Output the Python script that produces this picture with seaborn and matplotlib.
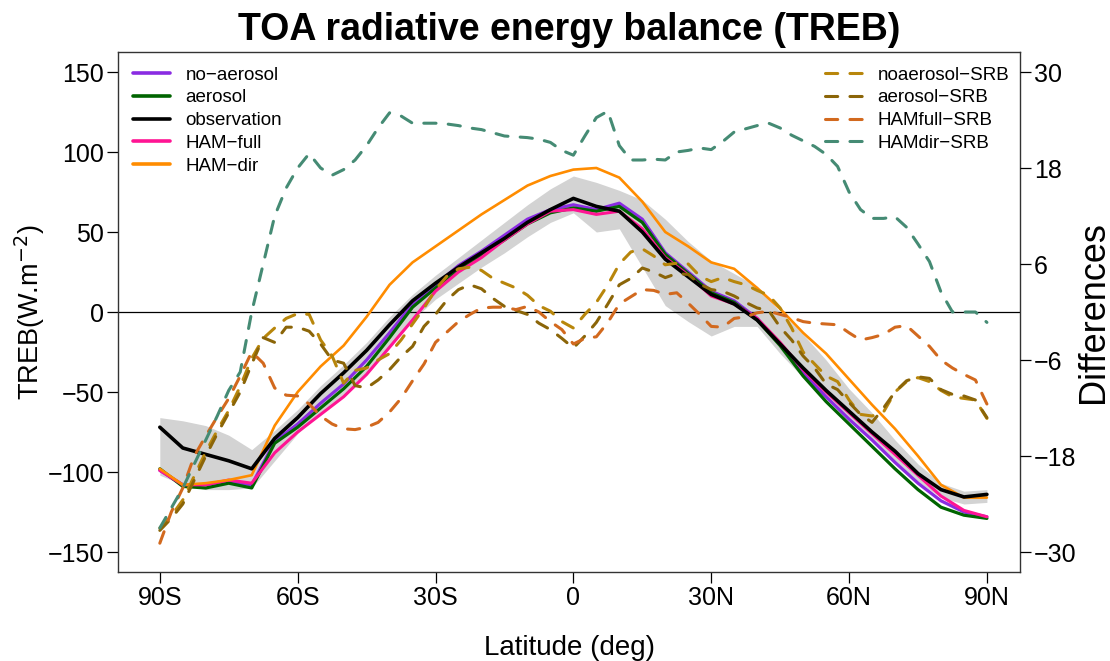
import numpy as np
import pandas as pd
import seaborn as sns
import matplotlib
matplotlib.use("Agg")
import matplotlib.pyplot as plt
from matplotlib.lines import Line2D

sns.set_style("ticks")
plt.rcParams["font.family"] = ["Liberation Sans", "DejaVu Sans"]
plt.rcParams["text.color"] = "black"
plt.rcParams["xtick.color"] = "black"
plt.rcParams["ytick.color"] = "black"

# latitude grids (deg, south negative)
lat = list(range(-90, 91, 5))
lat_d = [v / 2 for v in range(-180, 181, 5)]

# TREB (W m-2), left axis
obs = [-72, -85, -89, -93, -98, -79, -66, -51, -38, -24, -8, 7, 18, 28, 37, 46, 56, 64, 71,
       66, 63, 50, 33, 22, 11, 5, -5, -20, -35, -49, -62, -75, -87, -101, -111, -115.6, -114]
no_aerosol = [-99, -108, -108, -106, -108, -81, -70, -57, -45, -30, -13, 5, 17, 29, 38, 48, 58, 64, 67,
              64, 68, 58, 37, 25, 13, 7, -4, -20, -38, -53, -67, -80, -94, -107, -118, -125, -128]
aerosol = [-98, -109, -110, -107, -110, -82, -72, -60, -48, -34, -16, 3, 15, 26, 36, 45, 55, 62, 65,
           63, 66, 56, 36, 24, 12, 6, -5, -21, -40, -56, -70, -84, -98, -111, -122, -127, -129]
ham_full = [-99, -108, -108, -105, -107, -88, -75, -64, -53, -39, -22, -5, 13, 25, 34, 45, 55, 63, 64,
            61, 63, 52, 34, 23, 10, 5, -4, -19, -36, -50, -63, -76, -89, -102, -115, -124, -128]
ham_dir = [-98, -108, -107, -105, -102, -71, -50, -34, -21, -3, 17, 31, 41, 51, 61, 70, 79, 85, 89,
           90, 84, 69, 50, 41, 31, 27, 15, 2, -13, -26, -42, -58, -73, -90, -108, -116, -116]
obs_hi = [-66, -68, -71, -77, -86, -74, -61, -46, -33, -19, -3, 11, 23, 34, 45, 56, 67, 77, 85,
          81, 76, 70, 58, 44, 32, 24, 16, 0, -14, -30, -48, -63, -80, -95, -107, -112, -111]
obs_lo = [-102, -108, -111, -111, -110, -93, -76, -63, -52, -38, -22, -5, 8, 18, 28, 37, 47, 56, 62,
          50, 52, 28, 4, -6, -15, -9, -9, -26, -41, -54, -66, -79, -93, -106, -116, -120, -119]

# differences (W m-2), right axis
noaer_srb = [-27, -25.5, -23.5, -20.5, -17.5, -14.8, -12.3, -9.3, -5.8, -3.3, -2, -0.8, -0.2, -0.3,
             -3.5, -5.5, -8.9, -7.3, -7, -6, -5.2, -3.5, -1.5, 0.5, 2.8, 4.5, 5.4, 5.6, 5.2, 4.2,
             3.6, 3, 2.1, 0.8, 0.1, -1.2, -2, -0.3, 1.2, 3.4, 6, 7.5, 7.9, 7, 5.9, 6.1, 6, 4.5,
             3.8, 4.3, 3.8, 3.4, 2.7, 2.1, 0.5, -2, -5, -6.5, -8, -8.7, -11, -12.8, -13, -12.5,
             -10, -8.7, -8.2, -8.7, -9.8, -10.6, -10.8, -11, -13.3]
aer_srb = [-27.3, -25.8, -24, -21, -18, -15.2, -12.6, -10, -6.5, -3.2, -3.8, -1.9, -1.9, -2.4,
           -4, -6, -6.4, -9.2, -9.5, -8.5, -7.2, -5.6, -4.3, -1.8, -0.3, 1.5, 2.8, 3.4, 2.9, 1.7,
           0.7, 0.2, -0.3, -1.4, -2.2, -3.3, -4.5, -3, -1.3, 1, 3.4, 4.2, 5.5, 5, 4.3, 4.8, 4.7,
           3.5, 2.8, 2.6, 2, 1.2, 0.5, 0.2, -1.9, -3.5, -5.5, -7, -9, -9.7, -11.3, -12.8, -13.8,
           -12, -10, -8.6, -8.1, -8.3, -9.7, -10.3, -10.5, -11, -13.2]
hamfull_srb = [-28.9, -25, -22, -18, -15.5, -13.1, -10.8, -8, -5, -6.4, -9.5, -10.4, -10.5, -11.5,
               -13, -14, -14.6, -14.7, -14.4, -13.8, -12.5, -10.8, -8.6, -6.5, -3.8, -2.5, -1.2,
               -0.3, 0.5, 0.6, 0.6, 0.3, 0.7, 0, -1.2, -2.2, -4, -3.3, -3.1, -1.3, 1, 1.9, 2.8,
               2.7, 2.2, 2.4, 1.1, -0.3, -1.8, -1.9, -0.8, -0.6, -0.1, 0.1, -0.3, -0.7, -1.2, -1.4,
               -1.5, -1.6, -2.6, -3.5, -3.2, -2.8, -1.9, -1.7, -3, -4.3, -6, -7, -7.8, -8.5, -11.5]
hamdir_srb = [-27, -24.5, -22, -19, -16, -13, -9.8, -7.5, 0, 6, 12, 15.5, 18, 19.8, 18, 17.1,
              17.8, 19, 20.8, 23, 24.9, 24.5, 23.6, 23.6, 23.6, 23.5, 23.3, 23, 22.8, 22.4, 22,
              21.9, 21.8, 21.6, 21.2, 20.2, 19.6, 22, 24.3, 25.1, 20.8, 19, 19, 19.1, 19, 20, 20.2,
              20.5, 20.3, 21.3, 22.5, 22.9, 23.3, 23.6, 23, 22.1, 21.4, 20.7, 19.7, 18.2, 15,
              12.8, 11.7, 11.7, 11.9, 10.6, 8.5, 6.3, 2.5, 0, 0, 0, -1.3]

solid = pd.DataFrame({"lat": lat, "no-aerosol": no_aerosol, "aerosol": aerosol,
                      "observation": obs, "HAM-full": ham_full, "HAM-dir": ham_dir})
diffs = pd.DataFrame({"lat": lat_d, "noaerosol-SRB": noaer_srb, "aerosol-SRB": aer_srb,
                      "HAMfull-SRB": hamfull_srb, "HAMdir-SRB": hamdir_srb})

solid_style = {"no-aerosol": ("#8A2BE2", 2.3), "aerosol": ("#006400", 2.3),
               "observation": ("black", 2.6), "HAM-full": ("#FF1493", 2.2),
               "HAM-dir": ("#FF8C00", 1.9)}
diff_colors = {"noaerosol-SRB": "#B8860B", "aerosol-SRB": "#8B6508",
               "HAMfull-SRB": "#D2691E", "HAMdir-SRB": "#458B74"}
dash = (0, (4, 4))

fig = plt.figure(figsize=(11.1, 6.61), dpi=100)
ax = fig.add_axes([118 / 1110, 1 - 572 / 661, 902 / 1110, 520 / 661])

ax.fill_between(solid["lat"], obs_lo, obs_hi, color="#D3D3D3", lw=0, zorder=1)
ax.axhline(0, color="black", lw=0.9, zorder=1.5)
for name in ["no-aerosol", "aerosol", "HAM-full", "HAM-dir", "observation"]:
    c, w = solid_style[name]
    sns.lineplot(data=solid, x="lat", y=name, ax=ax, color=c, lw=w,
                 estimator=None, legend=False, zorder=2)

ax.set_xlim(-99.1, 97.2)
ax.set_ylim(-162.5, 162.5)
ax.set_xticks([-90, -60, -30, 0, 30, 60, 90])
ax.set_xticklabels(["90S", "60S", "30S", "0", "30N", "60N", "90N"])
ax.set_yticks([-150, -100, -50, 0, 50, 100, 150])
ax.set_xlabel("")
ax.set_ylabel("")
ax.tick_params(direction="out", length=8, width=0.9, labelsize=18, pad=2, color="black")
for s in ax.spines.values():
    s.set_visible(True)
    s.set_linewidth(1.0)
    s.set_color("#333333")

ax2 = ax.twinx()
for name, c in diff_colors.items():
    sns.lineplot(data=diffs, x="lat", y=name, ax=ax2, color=c, lw=2.2,
                 linestyle=dash, dash_capstyle="round", estimator=None, legend=False)
ax2.set_ylim(-32.5, 32.5)
ax2.set_yticks([-30, -18, -6, 6, 18, 30])
ax2.set_ylabel("")
ax2.tick_params(axis="y", direction="out", length=8, width=0.9, labelsize=18, pad=2)
for s in ax2.spines.values():
    s.set_visible(False)

h1 = [Line2D([], [], color=solid_style[n][0], lw=2.6) for n in
      ["no-aerosol", "aerosol", "observation", "HAM-full", "HAM-dir"]]
leg1 = ax2.legend(h1, ["no\u2212aerosol", "aerosol", "observation", "HAM\u2212full", "HAM\u2212dir"],
                  loc="upper left", bbox_to_anchor=(0.0166, 0.972), frameon=False,
                  fontsize=13.5, handlelength=2.0, handletextpad=0.8, labelspacing=0.3,
                  borderpad=0, borderaxespad=0)
ax2.add_artist(leg1)
h2 = [Line2D([], [], color=c, lw=2.2, linestyle=dash, dash_capstyle="round")
      for c in diff_colors.values()]
ax2.legend(h2, ["noaerosol\u2212SRB", "aerosol\u2212SRB", "HAMfull\u2212SRB", "HAMdir\u2212SRB"],
           loc="upper right", bbox_to_anchor=(0.988, 0.972), frameon=False,
           fontsize=13.5, handlelength=2.0, handletextpad=0.8, labelspacing=0.3,
           borderpad=0, borderaxespad=0)

fig.text(569 / 1110, 1 - 30 / 661, "TOA radiative energy balance (TREB)",
         ha="center", va="center", fontsize=27, fontweight="bold")
fig.text(570 / 1110, 1 - 648 / 661, "Latitude (deg)", ha="center", va="center", fontsize=20)
fig.text(30 / 1110, 1 - 312 / 661, "TREB(W.m$^{-2}$)", ha="center", va="center",
         rotation=90, fontsize=19.5)
fig.text(1094 / 1110, 1 - 312 / 661, "Differences", ha="center", va="center",
         rotation=90, fontsize=26)

fig.savefig("out.png", dpi=100)
